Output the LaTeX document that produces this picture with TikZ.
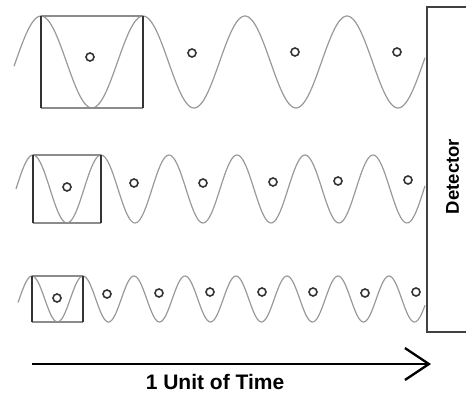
\documentclass[tikz,border=0pt]{standalone}
\usepackage{fontspec}
\setmainfont{Liberation Sans}
\usetikzlibrary{arrows.meta}
\begin{document}
\begin{tikzpicture}[x=1pt, y=-1pt,
    wave/.style={black!40, line width=1.2pt},
    side/.style={black!80, line width=1.8pt},
    rim/.style={black!45, line width=1.4pt},
    dot/.style={circle, draw=black!80, line width=1.6pt, minimum size=8pt, inner sep=0pt}]
    \useasboundingbox (0,0) rectangle (466,394);

    % 第一行：长波
    \draw[wave, domain=14:425, samples=240, smooth] plot (\x, {62-46*cos((\x-41)/102*360)});
    \draw[rim] (41,16) -- (143,16) (41,108) -- (143,108);
    \draw[side] (41,16) -- (41,108) (143,16) -- (143,108);
    \foreach \cx/\cy [count=\i] in {90/57, 192/53, 295/52, 397/52}
        \node[dot] (a\i) at (\cx,\cy) {};

    % 第二行：中波
    \draw[wave, domain=16:425, samples=240, smooth] plot (\x, {189-34*cos((\x-33)/68*360)});
    \draw[rim] (33,155) -- (101,155) (33,223) -- (101,223);
    \draw[side] (33,155) -- (33,223) (101,155) -- (101,223);
    \foreach \cx/\cy [count=\i] in {67/187, 134/183, 203/183, 273/182, 338/181, 408/180}
        \node[dot] (b\i) at (\cx,\cy) {};

    % 第三行：短波
    \draw[wave, domain=18:425, samples=300, smooth] plot (\x, {299-23*cos((\x-32)/51*360)});
    \draw[rim] (32,276) -- (83,276) (32,322) -- (83,322);
    \draw[side] (32,276) -- (32,322) (83,276) -- (83,322);
    \foreach \cx/\cy [count=\i] in {57/298, 107/294, 159/293, 210/292, 262/292, 313/292, 365/293, 416/292}
        \node[dot] (c\i) at (\cx,\cy) {};

    % 探测器
    \draw[black!75, line width=2.2pt] (470,7) -- (427,7) -- (427,332) -- (470,332);
    \node[rotate=90, font=\bfseries\fontsize{18.5}{22}\selectfont] (det) at (452.5,176.5) {Detector};

    % 时间轴
    \coordinate (t0) at (32,364);
    \coordinate (t1) at (431,364);
    \draw[-{Straight Barb[length=24pt, width=32pt]}, line width=2.3pt] (t0) -- (t1);
    \node[font=\bfseries\fontsize{21}{25}\selectfont] (unit) at (215,381.5) {1 Unit of Time};
\end{tikzpicture}
\end{document}
